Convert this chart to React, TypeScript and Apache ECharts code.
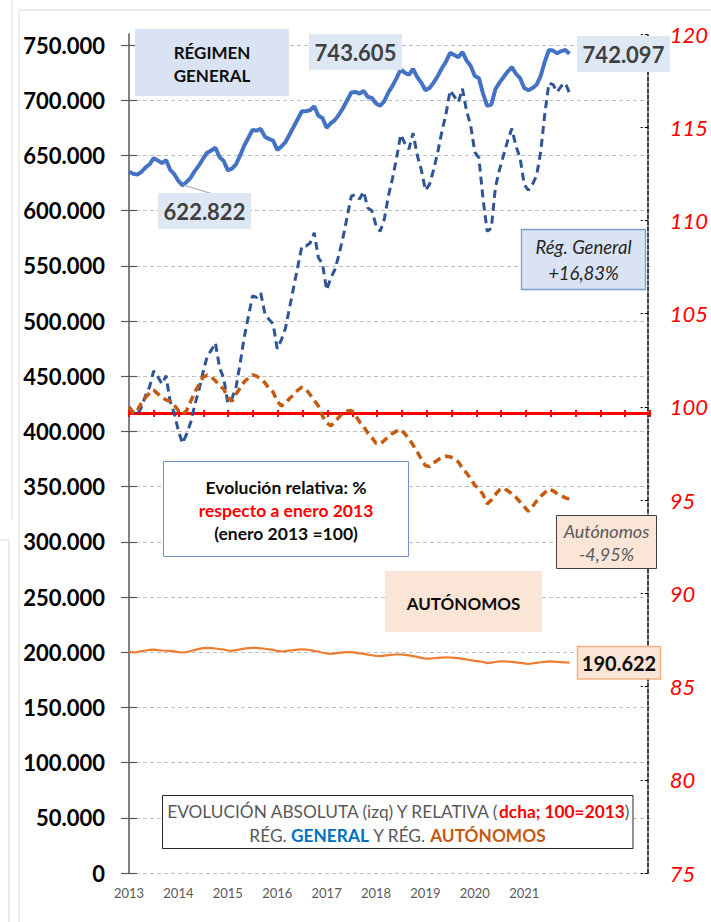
import React, { useEffect, useRef } from "react";
import * as echarts from "echarts";

// ---- Tick labels / categories ----
const years = ["2013", "2014", "2015", "2016", "2017", "2018", "2019", "2020", "2021"];
const monthCount = 127; // Jan 2013 .. Jul 2023 (axis length)
const months: string[] = Array.from({ length: monthCount }, (_, i) =>
  `${2013 + Math.floor(i / 12)}-${String((i % 12) + 1).padStart(2, "0")}`
);

// ---- Régimen General (absolute, persons) ----
const rg2013 = [635194, 633400, 632600, 635000, 639000, 642000, 647500, 645500, 643000, 645800, 637000, 633000];
const rg2014 = [627000, 622822, 626000, 630000, 636000, 641000, 647000, 652500, 654500, 657000, 648500, 645000];
const rg2015 = [636500, 638000, 642000, 650000, 659000, 666000, 673000, 672500, 674000, 667000, 665000, 663500];
const rg2016 = [655000, 658000, 662000, 669000, 676000, 683000, 690000, 690000, 691000, 694500, 686000, 684000];
const rg2017 = [675000, 679000, 682000, 687000, 693000, 700000, 707000, 707500, 706000, 708500, 703000, 702000];
const rg2018 = [697000, 695000, 699000, 707000, 713000, 720000, 728000, 725000, 723000, 728500, 721000, 716000];
const rg2019 = [709000, 711000, 716000, 722000, 729000, 735000, 743000, 741000, 739000, 743605, 736000, 731000];
const rg2020 = [722000, 720000, 706000, 695000, 696000, 710000, 716000, 721000, 726000, 730000, 724000, 720000];
const rg2021 = [711000, 709000, 711000, 714000, 722000, 735000, 745500, 745000, 742500, 744500, 745500, 742097];

// ---- Autónomos (absolute, persons) ----
const aut2013 = [200549, 199867, 200148, 200950, 201552, 202053, 202354, 201953, 201552, 201311, 201151, 200750];
const aut2014 = [200148, 199747, 200148, 201151, 202153, 202956, 203758, 203958, 203758, 203357, 202855, 202454];
const aut2015 = [201552, 201151, 201953, 202554, 203256, 203658, 203999, 203858, 203557, 203156, 202554, 202153];
const aut2016 = [201151, 200649, 200950, 201451, 201852, 202354, 202655, 202454, 201852, 201251, 200649, 199546];
const aut2017 = [198844, 198503, 198945, 199446, 199907, 200108, 200148, 199647, 198945, 198423, 197741, 197240];
const aut2018 = [196638, 196538, 196939, 197340, 197701, 197942, 198142, 197641, 197140, 196438, 195736, 194934];
const aut2019 = [194232, 194131, 194533, 194834, 195134, 195234, 195194, 194934, 194633, 193931, 193430, 192828];
const aut2020 = [192126, 191725, 191123, 190120, 190521, 191123, 191625, 191825, 191524, 191223, 190822, 190321];
const aut2021 = [189820, 189318, 189820, 190421, 190923, 191324, 191725, 191524, 191223, 191023, 190762, 190622];

const rg = [...rg2013, ...rg2014, ...rg2015, ...rg2016, ...rg2017, ...rg2018, ...rg2019, ...rg2020, ...rg2021];
const aut = [...aut2013, ...aut2014, ...aut2015, ...aut2016, ...aut2017, ...aut2018, ...aut2019, ...aut2020, ...aut2021];
// relative evolution: January 2013 = 100
const rgIdx = rg.map((v) => +((v / rg[0]) * 100).toFixed(3));
const autIdx = aut.map((v) => +((v / aut[0]) * 100).toFixed(3));

const FONT = 'Lato, "Noto Sans", sans-serif';
const fmtThousands = (v: number) => String(v).replace(/\B(?=(\d{3})+(?!\d))/g, ".");

function box(x: number, y: number, w: number, h: number, fill: string, stroke?: string, lw = 1) {
  return {
    type: "rect",
    z: 100,
    shape: { x, y, width: w, height: h },
    style: { fill, stroke: stroke || null, lineWidth: stroke ? lw : 0 },
    silent: true,
  };
}
function txt(x: number, y: number, text: string, o: any = {}) {
  return {
    type: "text",
    z: 101,
    x,
    y,
    silent: true,
    style: {
      text,
      align: "center",
      verticalAlign: "middle",
      fontFamily: FONT,
      fontSize: o.size || 16,
      fontWeight: o.weight || "normal",
      fontStyle: o.style || "normal",
      fill: o.color || "#000",
      ...(o.rich ? { rich: o.rich } : {}),
    },
  };
}

export default function App() {
  const ref = useRef<HTMLDivElement>(null);
  useEffect(() => {
    if (!ref.current) return;
    const chart = echarts.init(ref.current, null, { renderer: "svg" });
    const redAxis = (pos: string) => ({
      gridIndex: 1,
      type: "value",
      min: 0,
      max: 126,
      interval: 6,
      position: pos,
      axisLine: { show: true, lineStyle: { color: "#FF0000", width: 2 } },
      axisTick: { show: true, length: 3, lineStyle: { color: "#FF0000", width: 2 } },
      axisLabel: { show: false },
      splitLine: { show: false },
    });
    const LEG = 17.3;
    const option: any = {
      animation: false,
      backgroundColor: "#ffffff",
      grid: [
        { left: 129, right: 61, top: 34, bottom: 49 },
        { left: 129, right: 61, top: 413, height: 1 },
        { left: 129, right: 61, top: 45, bottom: 49 },
      ],
      xAxis: [
        {
          gridIndex: 0,
          type: "category",
          data: months,
          boundaryGap: false,
          axisLine: { show: false },
          axisTick: { show: false },
          splitLine: { show: false },
          axisLabel: {
            interval: 11,
            margin: 13,
            color: "#595959",
            fontSize: 13,
            fontFamily: FONT,
            formatter: (_v: string, i: number) => years[i / 12] ?? "",
          },
        },
        redAxis("bottom"),
        redAxis("top"),
        { gridIndex: 2, type: "value", show: false, min: 0, max: 1 },
      ],
      yAxis: [
        {
          gridIndex: 0,
          type: "value",
          position: "left",
          min: 0,
          max: 760000,
          axisLine: { show: true, lineStyle: { color: "#595959", width: 1.5 } },
          axisTick: { show: false },
          axisLabel: { show: false },
          splitLine: { show: false },
        },
        {
          gridIndex: 0,
          type: "value",
          position: "right",
          min: 75,
          max: 120,
          interval: 5,
          axisLine: { show: true, lineStyle: { color: "#000000", width: 1.5, type: [4, 2] } },
          axisTick: { show: true, inside: true, length: 7, lineStyle: { color: "#000000", width: 1.2, type: [3, 2] } },
          axisLabel: { color: "#FF0000", fontStyle: "italic", fontSize: 22, fontFamily: FONT, margin: 22 },
          splitLine: { show: false },
        },
        { gridIndex: 1, type: "value", show: false, min: 0, max: 1 },
        {
          gridIndex: 2,
          type: "value",
          position: "left",
          min: 0,
          max: 750000,
          interval: 50000,
          axisLine: { show: false },
          axisTick: { show: true, length: 8, lineStyle: { color: "#595959", width: 1.2 } },
          axisLabel: {
            margin: 24,
            color: "#000000",
            fontWeight: "bold",
            fontSize: 22,
            fontFamily: FONT,
            formatter: (v: number) => fmtThousands(v),
          },
          splitLine: { show: true, lineStyle: { color: "#BFBFBF", width: 1, type: [4, 3] } },
        },
        {
          gridIndex: 2,
          type: "value",
          position: "left",
          min: 0,
          max: 750000,
          interval: 50000,
          axisLine: { show: false },
          axisTick: { show: true, inside: true, length: 8, lineStyle: { color: "#595959", width: 1.2 } },
          axisLabel: { show: false },
          splitLine: { show: false },
        },
      ],
      series: [
        {
          name: "Rég. General relativo",
          type: "line",
          xAxisIndex: 0,
          yAxisIndex: 1,
          data: rgIdx,
          symbol: "none",
          silent: true,
          z: 4,
          lineStyle: { color: "#2F5597", width: 3, type: [8, 5] },
        },
        {
          name: "Autónomos relativo",
          type: "line",
          xAxisIndex: 0,
          yAxisIndex: 1,
          data: autIdx,
          symbol: "none",
          silent: true,
          z: 4,
          lineStyle: { color: "#C55A11", width: 3.5, type: [8, 5] },
        },
        {
          name: "Rég. General",
          type: "line",
          xAxisIndex: 0,
          yAxisIndex: 0,
          data: rg,
          symbol: "none",
          silent: true,
          z: 5,
          lineStyle: { color: "#4472C4", width: 4 },
        },
        {
          name: "Autónomos",
          type: "line",
          xAxisIndex: 0,
          yAxisIndex: 0,
          data: aut,
          symbol: "none",
          silent: true,
          z: 5,
          lineStyle: { color: "#ED7D31", width: 2.2 },
        },
      ],
      graphic: {
        elements: [
          // page / panel frames
          { type: "rect", z: 0, silent: true, shape: { x: 19, y: 10, width: 720, height: 940 }, style: { fill: "none", stroke: "#D9D9D9", lineWidth: 1 } },
          { type: "line", z: 0, silent: true, shape: { x1: 12, y1: 0, x2: 12, y2: 520 }, style: { stroke: "#D9D9D9", lineWidth: 1 } },
          { type: "rect", z: 0, silent: true, shape: { x: -5, y: 540, width: 14, height: 400 }, style: { fill: "none", stroke: "#D9D9D9", lineWidth: 1 } },

          // Régimen general title
          box(135, 29, 154, 67, "#DAE3F3"),
          txt(212, 52, "RÉGIMEN", { size: 17, weight: "bold", color: "#0D0D0D" }),
          txt(212, 75, "GENERAL", { size: 17, weight: "bold", color: "#0D0D0D" }),

          // max / last / min labels
          box(309, 34, 93, 36, "#DEE8F5"),
          txt(355.5, 52.5, "743.605", { size: 22, weight: "bold", color: "#404040" }),
          box(577, 36, 93, 36, "#DEE8F5"),
          txt(623.5, 54, "742.097", { size: 22, weight: "bold", color: "#404040" }),
          { type: "line", z: 99, silent: true, shape: { x1: 183, y1: 185, x2: 213, y2: 194 }, style: { stroke: "#A6A6A6", lineWidth: 1 } },
          box(158, 193, 93, 36, "#DEE8F5"),
          txt(204.5, 211, "622.822", { size: 22, weight: "bold", color: "#404040" }),

          // Rég. General +16,83%
          box(521.5, 229.5, 124, 60, "#DAE3F3", "#7F9CCB", 1.3),
          txt(583.5, 247, "Rég. General", { size: 18.5, style: "italic", color: "#262626" }),
          txt(583.5, 273, "+16,83%", { size: 18.5, style: "italic", color: "#262626" }),

          // Evolución relativa box
          box(163.5, 461.5, 245, 95, "#FFFFFF", "#6F8FCF", 1),
          txt(286, 487, "Evolución relativa: %", { size: 17.5, weight: "bold", color: "#0D0D0D" }),
          txt(286, 510, "respecto a enero 2013", { size: 17.5, weight: "bold", color: "#FF0000" }),
          txt(286, 533, "(enero 2013 =100)", { size: 17.5, weight: "bold", color: "#0D0D0D" }),

          // Autónomos -4,95%
          box(556.5, 515.5, 100, 53, "#FBE5D6", "#404040", 1),
          txt(606.5, 531, "Autónomos", { size: 18, style: "italic", color: "#595959" }),
          txt(606.5, 553.5, "-4,95%", { size: 18, style: "italic", color: "#595959" }),

          // AUTÓNOMOS title
          box(385, 571, 157, 61, "#FBE5D6"),
          txt(463.5, 603, "AUTÓNOMOS", { size: 17, weight: "bold", color: "#0D0D0D" }),

          // last autónomos value
          box(577.5, 646.5, 83, 32.5, "#FBE5D6", "#F4B183", 1.5),
          txt(619, 663, "190.622", { size: 20, weight: "bold", color: "#0D0D0D" }),

          // bottom legend box
          box(162.5, 795.5, 470.5, 53, "#FFFFFF", "#262626", 1),
          txt(
            397.5,
            811.5,
            "{g|EVOLUCIÓN ABSOLUTA (izq) Y RELATIVA (}{r|dcha; 100=2013}{g|)}",
            {
              size: LEG,
              color: "#595959",
              rich: {
                g: { fontFamily: FONT, fontSize: LEG, fill: "#595959" },
                r: { fontFamily: FONT, fontSize: LEG, fill: "#FF0000", fontWeight: "bold" },
              },
            }
          ),
          txt(
            397.5,
            835,
            "{g|RÉG. }{b|GENERAL}{g| Y RÉG. }{o|AUTÓNOMOS}",
            {
              size: LEG,
              color: "#595959",
              rich: {
                g: { fontFamily: FONT, fontSize: LEG, fill: "#595959" },
                b: { fontFamily: FONT, fontSize: LEG, fill: "#0070C0", fontWeight: "bold" },
                o: { fontFamily: FONT, fontSize: LEG, fill: "#C55A11", fontWeight: "bold" },
              },
            }
          ),
        ],
      },
    };
    chart.setOption(option);
    return () => chart.dispose();
  }, []);
  return (
    <div
      ref={ref}
      style={{ position: "absolute", left: 0, top: 0, width: 711, height: 922, background: "#fff" }}
    />
  );
}
